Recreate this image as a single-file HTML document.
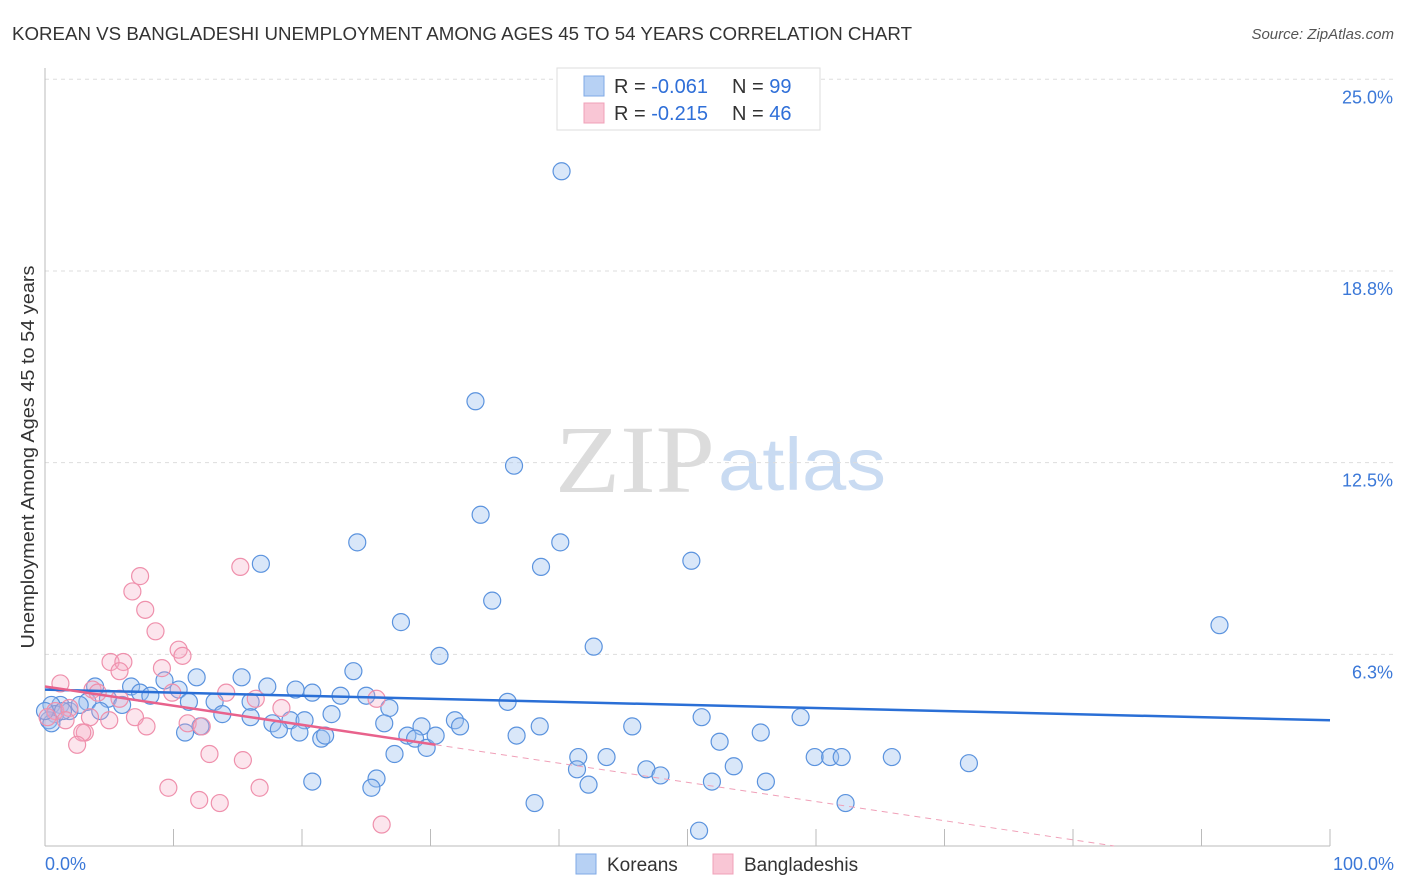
<!DOCTYPE html>
<html><head><meta charset="utf-8"><style>
body{margin:0;background:#fff;font-family:"Liberation Sans",sans-serif;}
svg{display:block}
</style></head><body>
<svg width="1406" height="892" id="chart">
<text x="12" y="40" font-size="18" fill="#333" textLength="900" lengthAdjust="spacingAndGlyphs">KOREAN VS BANGLADESHI UNEMPLOYMENT AMONG AGES 45 TO 54 YEARS CORRELATION CHART</text>
<text x="1394" y="39" font-size="15" fill="#555" text-anchor="end" font-style="italic">Source: ZipAtlas.com</text>
<text x="555" y="492" font-size="96" fill="#dcdcdc" font-family="Liberation Serif,serif" textLength="160" lengthAdjust="spacingAndGlyphs">ZIP</text>
<text x="718" y="490" font-size="74" fill="#c9dbf2" textLength="168" lengthAdjust="spacingAndGlyphs">atlas</text>
<text transform="translate(34,457) rotate(-90)" font-size="18" fill="#333" text-anchor="middle" textLength="383" lengthAdjust="spacingAndGlyphs">Unemployment Among Ages 45 to 54 years</text>
<g id="grid"></g><g id="pts"></g><g id="trend"></g>
<g>
<rect x="557" y="68" width="263" height="62" fill="#fff" stroke="#ddd"/>
<rect x="584" y="76" width="20" height="20" fill="#b7d1f4" stroke="#7fa9e6"/>
<text x="614" y="93" font-size="20" fill="#333">R = <tspan fill="#2f6fd8">-0.061</tspan><tspan x="732">N = </tspan><tspan fill="#2f6fd8">99</tspan></text>
<rect x="584" y="103" width="20" height="20" fill="#f9c6d5" stroke="#f0a0b8"/>
<text x="614" y="120" font-size="20" fill="#333">R = <tspan fill="#2f6fd8"> -0.215</tspan><tspan x="732">N = </tspan><tspan fill="#2f6fd8">46</tspan></text>
</g>
<g>
<rect x="576" y="854" width="20" height="20" fill="#b7d1f4" stroke="#7fa9e6"/>
<text x="607" y="871" font-size="19" fill="#333">Koreans</text>
<rect x="713" y="854" width="20" height="20" fill="#f9c6d5" stroke="#f0a0b8"/>
<text x="744" y="871" font-size="19" fill="#333">Bangladeshis</text>
</g>
</svg>
<script>
const yTicks=[6.25,12.5,18.75,25];
const yTickLabels=["6.3%","12.5%","18.8%","25.0%"];
const xTickLabels=["0.0%","100.0%"];
const koreanX=[40.2,33.5,36.5,33.9,24.3,40.1,16.8,38.6,50.3,91.4,34.8,27.7,30.7,42.7,24.0,15.3,17.3,19.5,11.8,9.3,6.7,3.9,7.4,10.4,8.2,4.9,6.0,3.3,1.2,0.5,0.8,1.9,4.3,11.2,13.2,16.0,20.8,23.0,25.0,26.8,36.0,13.8,16.0,17.7,19.1,20.2,22.3,26.4,29.3,31.9,32.3,12.1,10.9,18.2,19.8,21.5,21.8,28.2,28.8,29.7,30.4,36.7,38.5,45.7,51.1,58.8,52.5,55.7,27.2,41.5,43.7,46.8,47.9,41.4,53.6,59.9,61.1,62.0,65.9,71.9,20.8,25.8,25.4,42.3,51.9,56.1,38.1,62.3,50.9,0.3,0.5,0.0,1.4,2.7];
const koreanY=[22.0,14.5,12.4,10.8,9.9,9.9,9.2,9.1,9.3,7.2,8.0,7.3,6.2,6.5,5.7,5.5,5.2,5.1,5.5,5.4,5.2,5.2,5.0,5.1,4.9,4.8,4.6,4.7,4.6,4.6,4.3,4.4,4.4,4.7,4.7,4.7,5.0,4.9,4.9,4.5,4.7,4.3,4.2,4.0,4.1,4.1,4.3,4.0,3.9,4.1,3.9,3.9,3.7,3.8,3.7,3.5,3.6,3.6,3.5,3.2,3.6,3.6,3.9,3.9,4.2,4.2,3.4,3.7,3.0,2.9,2.9,2.5,2.3,2.5,2.6,2.9,2.9,2.9,2.9,2.7,2.1,2.2,1.9,2.0,2.1,2.1,1.4,1.4,0.5,4.1,4.0,4.4,4.4,4.6];
const bangX=[15.2,7.4,6.8,7.8,8.6,10.4,10.7,9.1,5.1,6.1,5.8,1.2,3.7,4.1,9.9,14.1,16.4,18.4,25.8,7.0,11.1,7.9,12.2,3.1,2.9,2.5,12.8,15.4,9.6,12.0,13.6,16.7,26.2,5.0,3.5,0.8,0.2,1.9,1.6,5.8];
const bangY=[9.1,8.8,8.3,7.7,7.0,6.4,6.2,5.8,6.0,6.0,5.7,5.3,5.1,5.0,5.0,5.0,4.8,4.5,4.8,4.2,4.0,3.9,3.9,3.7,3.7,3.3,3.0,2.8,1.9,1.5,1.4,1.9,0.7,4.1,4.2,4.4,4.2,4.5,4.1,4.8];
const koreanTrend=[5.1,4.1];
const bangTrend=[5.2,-1.05];
const bangSolidEnd=30.4;
const NS="http://www.w3.org/2000/svg";
const X=v=>45+v*12.85, Y=v=>846-v*30.67;
function mk(tag,attrs,parent){const e=document.createElementNS(NS,tag);for(const k in attrs)e.setAttribute(k,attrs[k]);parent.appendChild(e);return e;}
const grid=document.getElementById('grid');
yTicks.forEach((t,i)=>{
 const l=mk('line',{x1:45,x2:1395,y1:Y(t),y2:Y(t),stroke:'#ddd','stroke-dasharray':'4,4'},grid);
 
 
 const tx=mk('text',{x:1393,y:Y(t)+24,'font-size':18,fill:'#3b78d8','text-anchor':'end'},grid);
 tx.textContent=yTickLabels[i];
 
 
});
const ax=mk('line',{x1:45,x2:1330,y1:846,y2:846,stroke:'#bbb'},grid);


const ay=mk('line',{x1:45,x2:45,y1:68,y2:846,stroke:'#bbb'},grid);


for(let i=1;i<=10;i++){const t=mk('line',{x1:X(i*10),x2:X(i*10),y1:829,y2:846,stroke:'#bbb'},grid);
 
 }
const xl0=mk('text',{x:45,y:870,'font-size':18,fill:'#3b78d8'},grid);xl0.textContent=xTickLabels[0];


const xl1=mk('text',{x:1394,y:870,'font-size':18,fill:'#3b78d8','text-anchor':'end'},grid);xl1.textContent=xTickLabels[1];


const pts=document.getElementById('pts');
koreanX.forEach((x,i)=>{const c=mk('circle',{cx:X(x),cy:Y(koreanY[i]),r:8.5,fill:'rgba(160,196,240,0.4)',stroke:'#5b93de','stroke-width':1.2},pts);
 
 });
bangX.forEach((x,i)=>{const c=mk('circle',{cx:X(x),cy:Y(bangY[i]),r:8.5,fill:'rgba(244,170,194,0.3)',stroke:'#ef90ac','stroke-width':1.2},pts);
 
 });
const tr=document.getElementById('trend');
const kt=mk('line',{x1:X(0),y1:Y(koreanTrend[0]),x2:X(100),y2:Y(koreanTrend[1]),stroke:'#2a6fd6','stroke-width':2.5},tr);


const bAt=x=>bangTrend[0]+(bangTrend[1]-bangTrend[0])*x/100;
const bs=mk('line',{x1:X(0),y1:Y(bAt(0)),x2:X(bangSolidEnd),y2:Y(bAt(bangSolidEnd)),stroke:'#e8628c','stroke-width':2.5},tr);


const xz=bangTrend[0]/(bangTrend[0]-bangTrend[1])*100;
const bd=mk('line',{x1:X(bangSolidEnd),y1:Y(bAt(bangSolidEnd)),x2:X(xz),y2:Y(0),stroke:'#f0a0b8','stroke-width':1,'stroke-dasharray':'6,5'},tr);


</script>
</body></html>
